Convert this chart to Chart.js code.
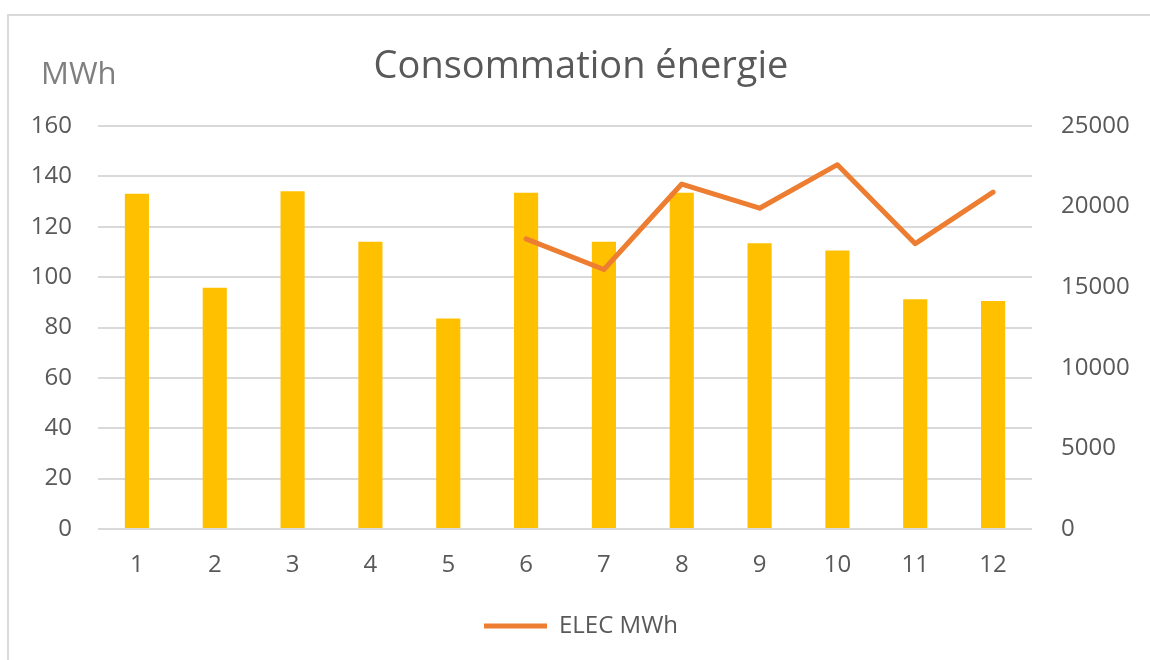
<!DOCTYPE html>
<html>
<head>
<meta charset="utf-8">
<script src="https://cdn.jsdelivr.net/npm/chart.js@4/dist/chart.umd.min.js"></script>
<style>
  html, body { margin: 0; padding: 0; background: #ffffff; }
  #wrap { position: relative; width: 1150px; height: 660px; }
</style>
</head>
<body>
<div id="wrap"><canvas id="c" width="1150" height="660"></canvas></div>
<script>
const months = ['1','2','3','4','5','6','7','8','9','10','11','12'];
const barValues = [133.1, 95.8, 134.1, 114, 83.6, 133.5, 114, 133.5, 113.4, 110.6, 91.2, 90.5];
const elecValues = [null, null, null, null, null, 18000, 16100, 21400, 19900, 22600, 17700, 20900];
const leftTicks = [0, 20, 40, 60, 80, 100, 120, 140, 160];
const rightTicks = [0, 5000, 10000, 15000, 20000, 25000];
const chartTitle = 'Consommation énergie';
const leftUnit = 'MWh';
const lineLabel = 'ELEC MWh';
const barLabel = 'MWh';

const FONT = "'Open Sans', 'Noto Sans', sans-serif";
const TXT = '#595959';

const framePlugin = {
  id: 'frame',
  afterLayout(chart) {
    if (chart.legend) { chart.legend.left += 6; chart.legend.right += 6; }
    if (chart.titleBlock) { chart.titleBlock.left += 6; chart.titleBlock.right += 6; }
  },
  beforeDraw(chart) {
    const ctx = chart.ctx;
    ctx.save();
    ctx.strokeStyle = '#d9d9d9';
    ctx.lineWidth = 2;
    ctx.beginPath();
    ctx.moveTo(8, 660);
    ctx.lineTo(8, 15);
    ctx.lineTo(1150, 15);
    ctx.stroke();
    ctx.restore();
  },
  afterDraw(chart) {
    const ctx = chart.ctx;
    ctx.save();
    ctx.fillStyle = '#7f7f7f';
    ctx.font = '31px ' + FONT;
    ctx.textBaseline = 'middle';
    ctx.textAlign = 'left';
    ctx.fillText(leftUnit, 41, 75);
    ctx.restore();
  }
};

new Chart(document.getElementById('c'), {
  type: 'bar',
  data: {
    labels: months,
    datasets: [
      {
        type: 'line',
        label: lineLabel,
        data: elecValues,
        yAxisID: 'y1',
        borderColor: '#ED7D31',
        backgroundColor: '#ED7D31',
        borderWidth: 5,
        borderCapStyle: 'round',
        borderJoinStyle: 'round',
        pointRadius: 0,
        tension: 0,
        spanGaps: false,
        order: 0
      },
      {
        type: 'bar',
        label: barLabel,
        data: barValues,
        yAxisID: 'y',
        backgroundColor: '#FFC000',
        borderWidth: 0,
        barPercentage: 0.31,
        categoryPercentage: 1,
        order: 1
      }
    ]
  },
  options: {
    responsive: false,
    animation: false,
    devicePixelRatio: 1,
    layout: { padding: { top: 0, bottom: 12, left: 0, right: 0 } },
    plugins: {
      title: {
        display: true,
        text: chartTitle,
        color: TXT,
        font: { family: FONT, size: 38, weight: 'normal', lineHeight: 1.2 },
        padding: { top: 44, bottom: 36.4 }
      },
      legend: {
        display: true,
        position: 'bottom',
        labels: {
          filter: (item) => item.text === lineLabel,
          usePointStyle: true,
          pointStyle: 'line',
          pointStyleWidth: 63,
          boxWidth: 55,
          boxHeight: 24,
          padding: 10,
          color: TXT,
          font: { family: FONT, size: 24 }
        }
      },
      tooltip: { enabled: false }
    },
    scales: {
      x: {
        grid: { display: false, drawTicks: false },
        border: { display: false },
        ticks: { color: TXT, font: { family: FONT, size: 24 }, padding: 22 },
        afterFit(s) { s.height = 75; }
      },
      y: {
        position: 'left',
        min: 0,
        max: 160,
        afterBuildTicks(s) { s.ticks = leftTicks.map(v => ({ value: v })); },
        grid: { color: '#d9d9d9', lineWidth: 2, drawTicks: false },
        border: { display: false },
        ticks: { color: TXT, font: { family: FONT, size: 24 }, padding: 26 },
        afterFit(s) { s.width = 98; }
      },
      y1: {
        position: 'right',
        min: 0,
        max: 25000,
        afterBuildTicks(s) { s.ticks = rightTicks.map(v => ({ value: v })); },
        grid: { display: false, drawTicks: false },
        border: { display: false },
        ticks: { color: TXT, font: { family: FONT, size: 24 }, padding: 29, callback: (v) => String(v) },
        afterFit(s) { s.width = 118; }
      }
    }
  },
  plugins: [framePlugin]
});
</script>
</body>
</html>
